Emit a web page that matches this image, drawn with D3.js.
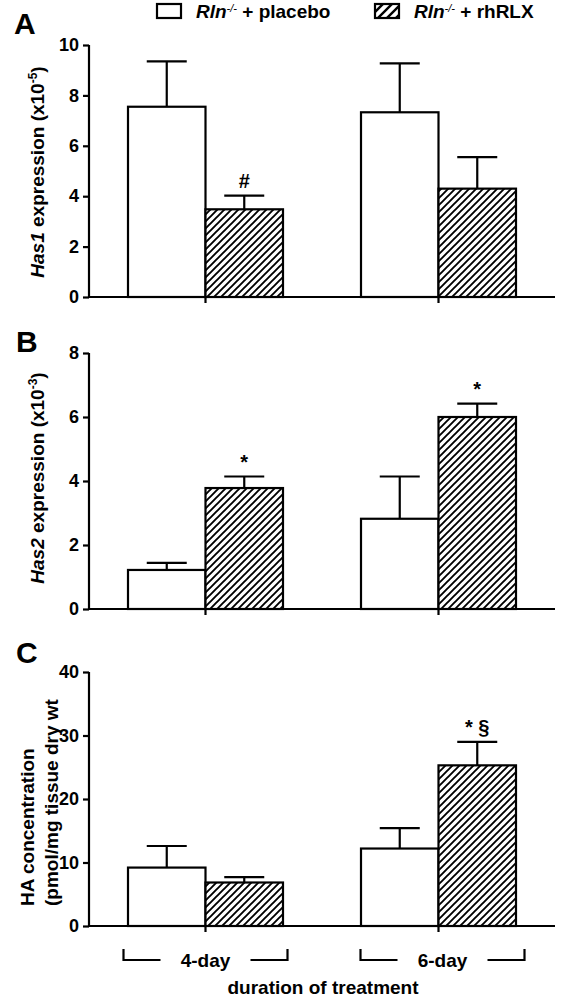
<!DOCTYPE html>
<html><head><meta charset="utf-8">
<script src="https://cdn.jsdelivr.net/npm/d3@7"></script>
<style>body{margin:0;background:#fff}svg{display:block;font-family:"Liberation Sans",Arial,sans-serif}</style>
</head><body><svg id="c" width="566" height="997"></svg>
<script>
// ---- data ----
const groups = ["4-day", "6-day"];
const series = ["placebo", "rhRLX"];
const has1Mean = [[7.55, 3.48], [7.33, 4.3]];
const has1Err  = [[9.35, 4.02], [9.27, 5.55]];
const has2Mean = [[1.22, 3.78], [2.82, 6.0]];
const has2Err  = [[1.44, 4.14], [4.14, 6.42]];
const haMean   = [[9.2, 6.85], [12.2, 25.3]];
const haErr    = [[12.6, 7.7], [15.4, 29.0]];
const has1Ticks = [0, 2, 4, 6, 8, 10];
const has2Ticks = [0, 2, 4, 6, 8];
const haTicks   = [0, 10, 20, 30, 40];
const has1Marks = [[null, "#"], [null, null]];
const has2Marks = [[null, "*"], [null, "*"]];
const haMarks   = [[null, null], [null, "* §"]];

const svg = d3.select("#c");
const defs = svg.append("defs");
function hatch(id, s, w) {
  const p = defs.append("pattern").attr("id", id).attr("patternUnits", "userSpaceOnUse")
    .attr("width", s).attr("height", s);
  p.append("rect").attr("width", s).attr("height", s).attr("fill", "#fff");
  p.append("path").attr("d", `M0,${s} L${s},0 M${-s/2},${s/2} L${s/2},${-s/2} M${s/2},${s*1.5} L${s*1.5},${s/2}`)
    .attr("stroke", "#000").attr("stroke-width", w);
}
hatch("h", 7, 1.9);
hatch("hl", 9, 2.4);

const X0 = 89, X1 = 555;
const x = d3.scaleBand().domain(groups).range([X0, X1]);
const barW = 77.5;
const fill = ["#fff", "url(#h)"];

function panel(opts) {
  const y = d3.scaleLinear().domain([0, opts.max]).range([opts.y0, opts.y1]);
  const g = svg.append("g");
  groups.forEach((gr, gi) => {
    const cx = x(gr) + x.bandwidth() / 2;
    series.forEach((s, si) => {
      const bx = si === 0 ? cx - barW : cx;
      const m = opts.mean[gi][si], e = opts.err[gi][si];
      const mid = bx + barW / 2;
      g.append("line").attr("x1", mid).attr("x2", mid).attr("y1", y(m)).attr("y2", y(e))
        .attr("stroke", "#000").attr("stroke-width", 2.2);
      g.append("line").attr("x1", mid - 20).attr("x2", mid + 20).attr("y1", y(e)).attr("y2", y(e))
        .attr("stroke", "#000").attr("stroke-width", 2.2);
      g.append("rect").attr("x", bx).attr("y", y(m)).attr("width", barW).attr("height", y(0) - y(m))
        .attr("fill", fill[si]).attr("stroke", "#000").attr("stroke-width", 2.2);
      const mk = opts.marks[gi][si];
      if (mk) g.append("text").attr("x", mid).attr("y", y(e) - 8).attr("text-anchor", "middle")
        .attr("font-size", 20).attr("font-weight", "bold").text(mk);
    });
  });
  const ya = g.append("g").attr("transform", `translate(${X0},0)`)
    .call(d3.axisLeft(y).tickValues(opts.ticks).tickSize(6).tickPadding(4));
  ya.select(".domain").attr("d", `M0,${opts.y1}V${opts.y0}`).attr("stroke-width", 2.2);
  ya.selectAll(".tick line").attr("stroke-width", 2.2);
  ya.selectAll("text").attr("font-size", 18).attr("font-weight", "bold").attr("fill", "#000")
    .attr("font-family", "Liberation Sans, Arial");
  const xa = g.append("g").attr("transform", `translate(0,${opts.y0})`)
    .call(d3.axisBottom(x).tickSize(6).tickFormat(""));
  xa.select(".domain").attr("d", `M${X0},0H${X1}`).attr("stroke-width", 2.2);
  xa.selectAll(".tick line").attr("stroke-width", 2.2);
  svg.append("text").attr("x", opts.lx).attr("y", opts.ly).attr("font-size", 30).attr("font-weight", "bold")
    .text(opts.letter);
  return y;
}

panel({max: 10, y0: 297, y1: 45, mean: has1Mean, err: has1Err, ticks: has1Ticks, marks: has1Marks, letter: "A", lx: 14, ly: 34});
panel({max: 8, y0: 609, y1: 353, mean: has2Mean, err: has2Err, ticks: has2Ticks, marks: has2Marks, letter: "B", lx: 16, ly: 352});
panel({max: 40, y0: 926, y1: 672, mean: haMean, err: haErr, ticks: haTicks, marks: haMarks, letter: "C", lx: 16, ly: 663});

function ytitle(cx, cy, parts, anchor) {
  const t = svg.append("text").attr("transform", `translate(${cx},${cy}) rotate(-90)`)
    .attr("text-anchor", anchor || "middle").attr("font-size", 19).attr("font-weight", "bold");
  parts.forEach(p => {
    const ts = t.append("tspan").text(p.t);
    if (p.i) ts.attr("font-style", "italic");
    if (p.sup) ts.attr("baseline-shift", "super").attr("font-size", 12);
  });
}
ytitle(44, 172, [{t: "Has1", i: 1}, {t: " expression (x10"}, {t: "-5", sup: 1}, {t: ")"}]);
ytitle(44, 478, [{t: "Has2", i: 1}, {t: " expression (x10"}, {t: "-3", sup: 1}, {t: ")"}]);
ytitle(34, 906, [{t: "HA concentration"}], "start");
ytitle(58, 906, [{t: "(pmol/mg tissue dry wt"}], "start");

const leg = svg.append("g");
const legX = [157, 375];
series.forEach((s, i) => {
  leg.append("rect").attr("x", legX[i]).attr("y", 4).attr("width", 24).attr("height", 14)
    .attr("fill", i ? "url(#hl)" : "#fff").attr("stroke", "#000").attr("stroke-width", 2.2);
  const t = leg.append("text").attr("x", legX[i] + 39).attr("y", 18).attr("font-size", 19).attr("font-weight", "bold");
  t.append("tspan").attr("font-style", "italic").text("Rln");
  t.append("tspan").attr("font-style", "italic").attr("font-size", 11).attr("baseline-shift", "super").attr("font-weight", "normal").text("-/-");
  t.append("tspan").text(" + " + s);
});

const by0 = 949, by1 = 960, half = 82, gap = 45;
groups.forEach(gr => {
  const cx = x(gr) + x.bandwidth() / 2 + (gr === "6-day" ? 4 : 0);
  svg.append("path").attr("d", `M${cx - half},${by0}V${by1}H${cx - gap}M${cx + gap},${by1}H${cx + half}V${by0}`)
    .attr("fill", "none").attr("stroke", "#000").attr("stroke-width", 2.2);
  svg.append("text").attr("x", cx).attr("y", 967).attr("text-anchor", "middle").attr("font-size", 19)
    .attr("font-weight", "bold").text(gr);
});
svg.append("text").attr("x", (X0 + X1) / 2 + 1).attr("y", 994).attr("text-anchor", "middle").attr("font-size", 19)
  .attr("font-weight", "bold").text("duration of treatment");
</script></body></html>
